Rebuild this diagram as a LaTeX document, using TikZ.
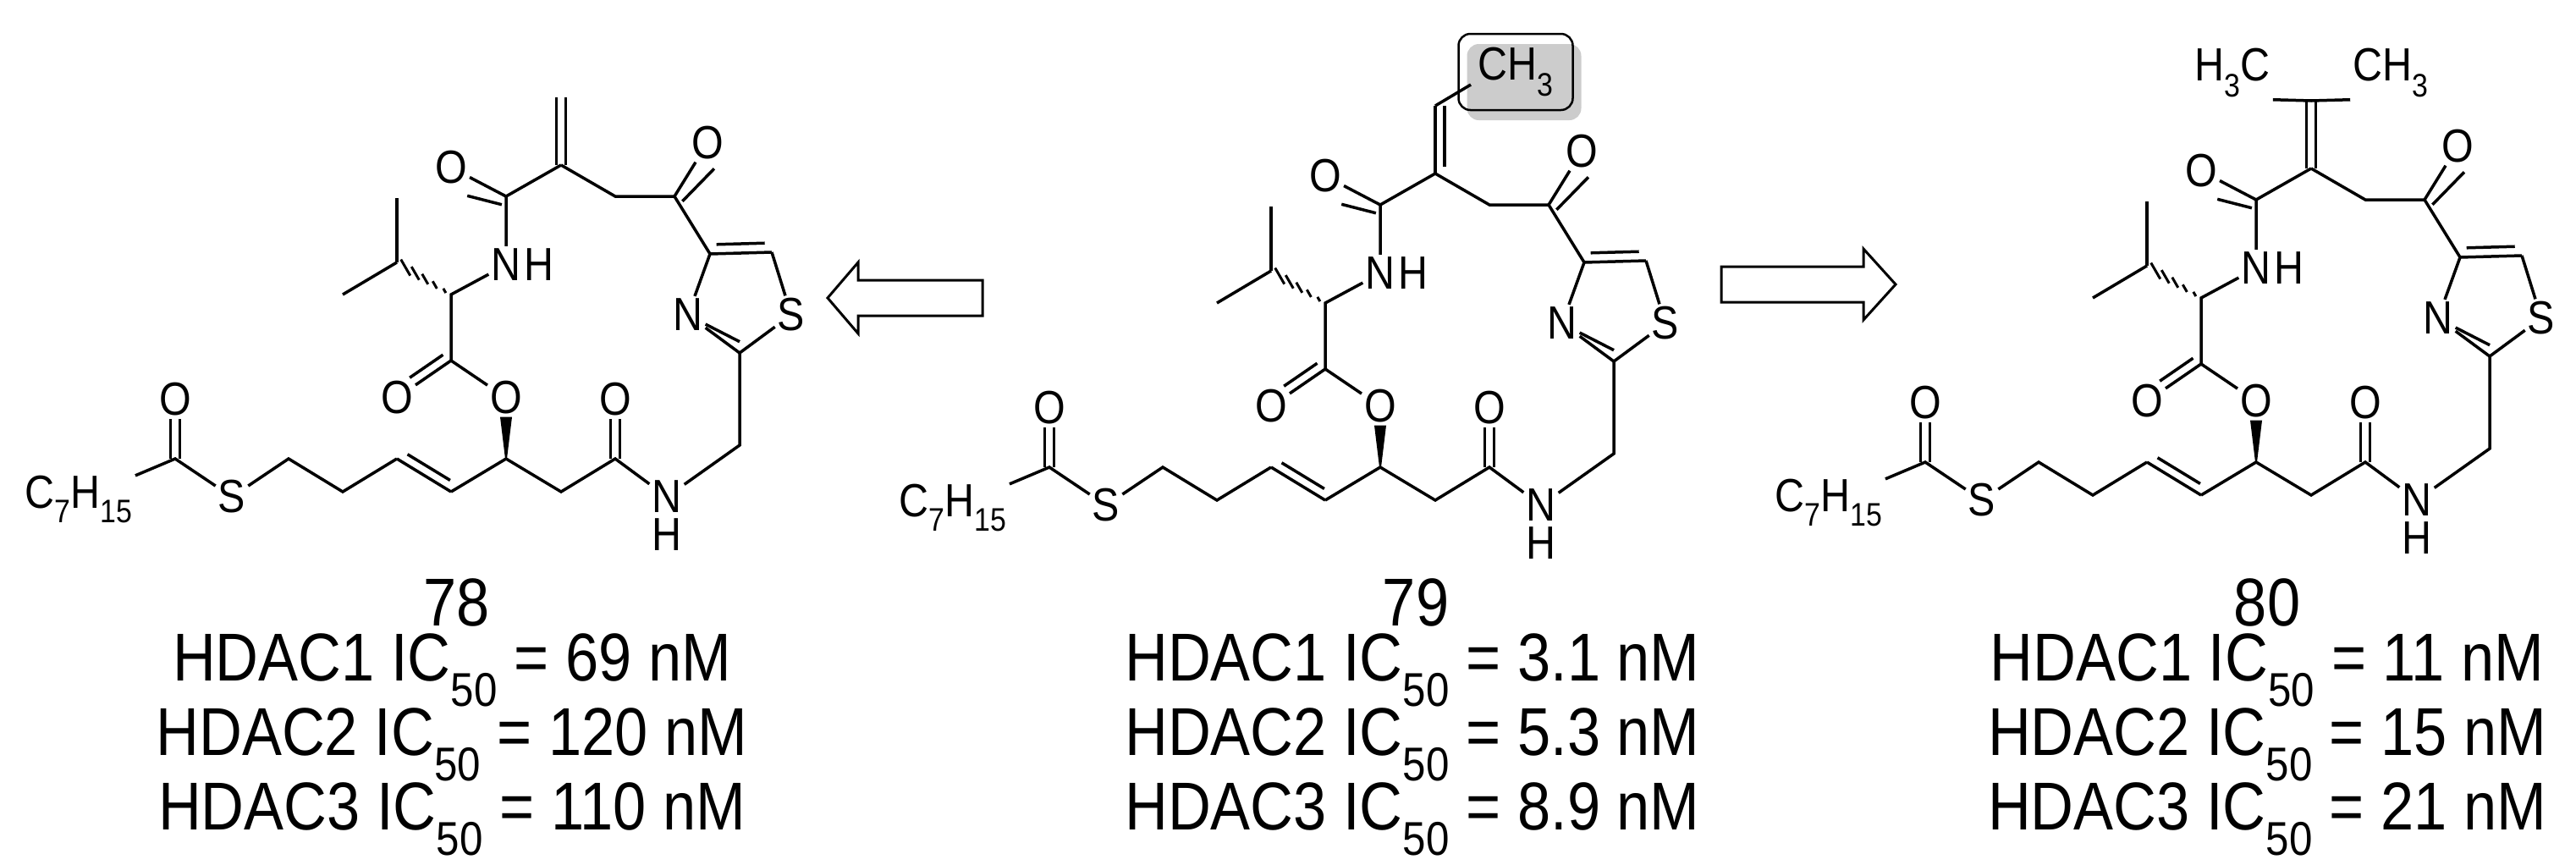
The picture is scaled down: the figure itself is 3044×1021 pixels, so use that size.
\documentclass[tikz,border=0pt]{standalone}
\usepackage{fontspec}
\setmainfont[FakeStretch=0.88]{Liberation Sans}
\usetikzlibrary{calc,shadows}
\tikzset{
  bond/.style={line width=3.5pt,line cap=butt},
  atom/.style={inner sep=3pt,font=\fontsize{55}{57}\selectfont},
  big/.style={font=\fontsize{80}{82}\selectfont,inner sep=0pt},
}
\newcommand\dbl[3][11]{% inner line offset to the right of a->b
  \draw[bond] (#2) -- (#3);
  \draw[bond,shorten <=8pt,shorten >=8pt] ($(#2)!#1pt!-90:(#3)$) -- ($(#3)!#1pt!90:(#2)$);}
\newcommand\core[1]{%
  \coordinate (#1ca) at (663,195);
  \coordinate (#1cam) at (598,232);
  \node[atom] (#1Oam) at (533,198) {O};
  \node[atom] (#1n1) at (598,313) {N};
  \node[atom,anchor=west,inner sep=0pt] (#1h1) at ([xshift=1pt]#1n1.east) {H};
  \coordinate (#1cal) at (533,348);
  \coordinate (#1ipr) at (469,310);
  \coordinate (#1me1) at (469,234);
  \coordinate (#1me2) at (405,348);
  \coordinate (#1cest) at (533,426);
  \node[atom] (#1Od) at (469,470) {O};
  \node[atom] (#1Oe) at (598,470) {O};
  \coordinate (#1cst) at (598,542);
  \coordinate (#1k1) at (533,581);
  \coordinate (#1k2) at (469,542);
  \coordinate (#1k3) at (405,581);
  \coordinate (#1k4) at (341,542);
  \node[atom] (#1S1) at (274,587) {S};
  \coordinate (#1cts) at (207,542);
  \node[atom] (#1Ots) at (207,472) {O};
  \node[atom] (#1hep) at (93,590) {C\textsubscript{7}H\textsubscript{15}};
  \coordinate (#1ch) at (663,581);
  \coordinate (#1cam2) at (727,542);
  \node[atom] (#1Oam2) at (727,472) {O};
  \node[atom] (#1n2) at (788,587) {N};
  \node[atom,anchor=north,inner sep=0pt] (#1h2) at ([yshift=-3pt]#1n2.south) {H};
  \coordinate (#1cb) at (874,526);
  \coordinate (#1c2) at (874,417);
  \node[atom] (#1Nt) at (813,372) {N};
  \node[atom] (#1St) at (935,372) {S};
  \coordinate (#1c5) at (912,298);
  \coordinate (#1c4) at (839,300);
  \coordinate (#1ck) at (797,232);
  \node[atom] (#1Ok) at (836,169) {O};
  \coordinate (#1cm) at (727,232);
  % bonds
  \draw[bond] (#1ca) -- (#1cam) -- (#1n1);
  \draw[bond] (#1n1) -- (#1cal) -- (#1cest) -- (#1Oe);
  \draw[bond] (#1ipr) -- (#1me1); \draw[bond] (#1ipr) -- (#1me2);
  \foreach \t/\w in {0.12/3,0.3/5,0.48/7,0.66/9,0.84/11}{
    \draw[line width=3pt] ($(#1cal)!\t!(#1ipr)$) ++(-\w*0.5,-\w*0.866) -- ++(\w,\w*1.732);}
  \draw[bond] (#1cest) -- (#1Od);
  \draw[bond,shorten <=4pt,shorten >=26pt] ($(#1cest)!11pt!-90:(#1Od)$) -- ($(#1Od)!11pt!90:(#1cest)$);
  \fill ($(#1cst)!1pt!90:(#1Oe)$) -- ($(#1cst)!1pt!-90:(#1Oe)$) -- ($(#1Oe.south)!7pt!90:(#1cst)$) -- ($(#1Oe.south)!7pt!-90:(#1cst)$) -- cycle;
  \draw[bond] (#1cst) -- (#1k1);
  \dbl{#1k1}{#1k2}
  \draw[bond] (#1k2) -- (#1k3) -- (#1k4) -- (#1S1) -- (#1cts) -- (#1hep);
  \draw[bond] ($(#1cts)+(-5.5,0)$) -- ($(#1Ots.south)+(-5.5,0)$);
  \draw[bond] ($(#1cts)+(5.5,0)$) -- ($(#1Ots.south)+(5.5,0)$);
  \draw[bond] (#1cst) -- (#1ch) -- (#1cam2) -- (#1n2) -- (#1cb) -- (#1c2) -- (#1St) -- (#1c5);
  \draw[bond] ($(#1cam2)+(-5.5,0)$) -- ($(#1Oam2.south)+(-5.5,0)$);
  \draw[bond] ($(#1cam2)+(5.5,0)$) -- ($(#1Oam2.south)+(5.5,0)$);
  \draw[bond] (#1c2) -- (#1Nt);
  \draw[bond,shorten <=8pt] ($(#1c2)!12pt!-90:(#1Nt)$) -- ($(#1Nt.south east)!0.5!(#1Nt.east)$);
  \draw[bond] (#1Nt) -- (#1c4);
  \dbl{#1c5}{#1c4}
  \draw[bond] (#1c4) -- (#1ck) -- (#1cm) -- (#1ca);
  \draw[bond] (#1ck) -- (#1Ok);
  \draw[bond] ($(#1ck)!11pt!-90:(#1Ok)$) -- ($(#1Ok.south)!11pt!90:(#1ck)$);
  \draw[bond] (#1cam) -- (#1Oam);
  \draw[bond] ($(#1cam)!11pt!90:(#1Oam)$) -- ($(#1Oam.south east)!11pt!-90:(#1cam)$);
}
\begin{document}
\begin{tikzpicture}[x=1pt,y=-1pt]
\useasboundingbox (0,0) rectangle (3044,1021);
% 78
\begin{scope}
\core{a}
\coordinate (atop) at (663,115);
\draw[bond] ($(aca)+(-5.5,0)$) -- ($(atop)+(-5.5,0)$);
\draw[bond] ($(aca)+(5.5,0)$) -- ($(atop)+(5.5,0)$);
\end{scope}
% 79
\begin{scope}[shift={(1033,10)}]
\core{b}
\coordinate (btop) at (663,115);
\node[atom,draw,line width=2.5pt,rounded corners=14pt,minimum height=90pt,minimum width=135pt,
  drop shadow={shadow xshift=10pt,shadow yshift=-12pt,fill=black!20,opacity=1}] (bme) at (758,75) {CH\textsubscript{3}};
\draw[bond] (bca) -- (btop);
\draw[bond,shorten <=8pt] ($(bca)+(11,0)$) -- ($(btop)+(11,0)$);
\draw[bond] (btop) -- (705,90);
\end{scope}
% 80
\begin{scope}[shift={(2068,4)}]
\core{c}
\coordinate (ctop) at (663,115);
\draw[bond] ($(cca)+(-5.5,0)$) -- ($(ctop)+(-5.5,0)$);
\draw[bond] ($(cca)+(5.5,0)$) -- ($(ctop)+(5.5,0)$);
\node[atom] (cm1) at (570,82) {H\textsubscript{3}C};
\node[atom] (cm2) at (757,82) {CH\textsubscript{3}};
\draw[bond] (ctop) -- (cm1.south east);
\draw[bond] (ctop) -- (cm2.south west);
\end{scope}
% arrows
\draw[line width=3pt] (978,352) -- (1014,310) -- (1014,331) -- (1161,331) -- (1161,373) -- (1014,373) -- (1014,394) -- cycle;
\draw[line width=3pt] (2240,336) -- (2202,294) -- (2202,315) -- (2034,315) -- (2034,357) -- (2202,357) -- (2202,378) -- cycle;
% labels
\node[big] (l78) at (540,712) {78};
\node[big,align=center] (t78) at (534,880) {HDAC1 IC\textsubscript{50} = 69 nM\\HDAC2 IC\textsubscript{50} = 120 nM\\HDAC3 IC\textsubscript{50} = 110 nM};
\node[big] (l79) at (1673,712) {79};
\node[big,align=center] (t79) at (1669,880) {HDAC1 IC\textsubscript{50} = 3.1 nM\\HDAC2 IC\textsubscript{50} = 5.3 nM\\HDAC3 IC\textsubscript{50} = 8.9 nM};
\node[big] (l80) at (2679,712) {80};
\node[big,align=center] (t80) at (2679,880) {HDAC1 IC\textsubscript{50} = 11 nM\\HDAC2 IC\textsubscript{50} = 15 nM\\HDAC3 IC\textsubscript{50} = 21 nM};
\end{tikzpicture}
\end{document}
